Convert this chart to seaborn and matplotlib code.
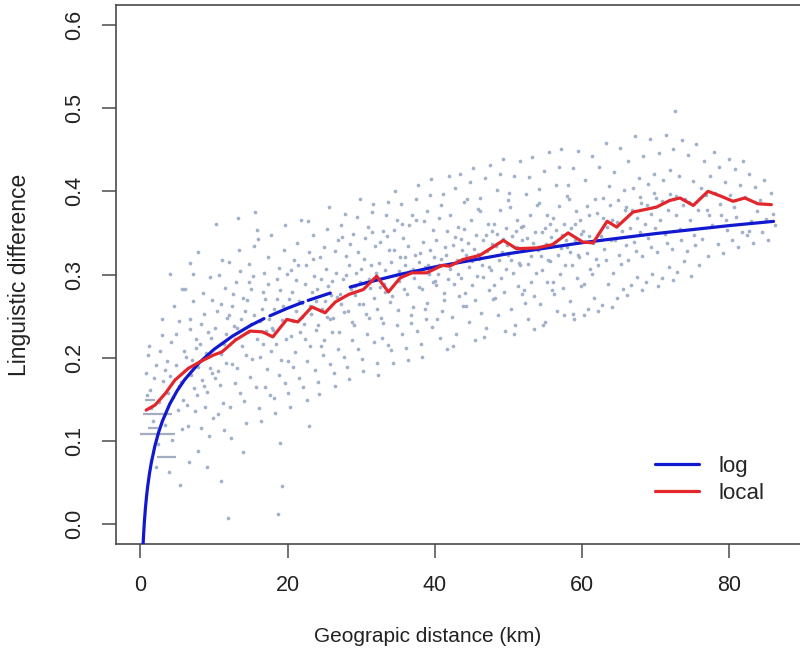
import numpy as np
import pandas as pd
import matplotlib
matplotlib.use("Agg")
import matplotlib.pyplot as plt
from matplotlib.lines import Line2D
import seaborn as sns

# ---------------- data ----------------
# scatter cloud (distance km, linguistic difference)
cloud_0_10 = [(0.8,0.182),(1.1,0.203),(1.3,0.161),(1.7,0.124),(1.9,0.176),(1.2,0.214),(1.5,0.139),(0.9,0.155),
    (2.2,0.191),(2.5,0.147),(2.7,0.208),(3.1,0.172),(3.3,0.119),(3.6,0.196),(2.4,0.096),(2.9,0.227),(3.8,0.158),
    (2.1,0.068),(3.4,0.185),(3.9,0.062),(4.2,0.219),(4.4,0.153),(4.8,0.191),(5.1,0.137),(5.3,0.244),(5.5,0.171),
    (5.9,0.208),(4.3,0.101),(4.9,0.229),(5.2,0.166),(5.7,0.114),(4.6,0.262),(5.4,0.047),(4.1,0.178),(5.8,0.149),
    (6.2,0.201),(6.3,0.143),(6.7,0.234),(6.9,0.179),(7.1,0.268),(7.4,0.136),(7.6,0.212),(7.9,0.189),(6.5,0.118),
    (6.8,0.247),(7.3,0.164),(7.5,0.223),(7.8,0.088),(6.1,0.283),(7.0,0.197),(7.7,0.155),(6.6,0.074),(8.1,0.216),
    (8.4,0.173),(8.6,0.252),(8.8,0.141),(9.2,0.231),(9.4,0.187),(9.7,0.269),(8.3,0.115),(8.9,0.206),(9.1,0.159),
    (9.5,0.297),(9.8,0.181),(8.2,0.241),(9.0,0.069),(9.6,0.224),(8.7,0.166),(9.9,0.128),(8.5,0.278),(9.3,0.106),
    (7.2,0.301),(5.6,0.283),(3.0,0.247),(4.0,0.301),(6.8,0.314),(7.9,0.327)]
cloud_10_20 = [(10.1,0.236),(10.3,0.361),(10.6,0.184),(10.9,0.265),(11.2,0.146),(11.4,0.217),(11.8,0.248),
    (10.2,0.175),(10.7,0.299),(11.0,0.204),(11.3,0.113),(11.6,0.229),(11.9,0.007),(10.4,0.256),(10.8,0.167),
    (11.5,0.284),(11.7,0.194),(10.5,0.132),(11.1,0.318),(10.9,0.052),(12.1,0.251),(12.4,0.193),(12.6,0.277),
    (12.9,0.169),(13.2,0.236),(13.3,0.368),(13.6,0.304),(13.8,0.214),(12.2,0.141),(12.5,0.262),(12.8,0.223),
    (13.1,0.187),(13.4,0.329),(13.7,0.246),(12.3,0.104),(13.0,0.291),(13.5,0.158),(12.7,0.238),(13.9,0.272),
    (12.0,0.315),(14.2,0.256),(14.3,0.203),(14.7,0.291),(14.9,0.177),(15.1,0.241),(15.4,0.334),(15.6,0.375),
    (15.8,0.222),(14.1,0.148),(14.5,0.269),(14.8,0.313),(15.2,0.198),(15.5,0.251),(15.9,0.354),(14.4,0.121),
    (15.0,0.282),(15.7,0.165),(14.6,0.231),(15.3,0.298),(14.0,0.087),(16.2,0.244),(16.3,0.201),(16.7,0.279),
    (16.9,0.165),(17.1,0.232),(17.4,0.321),(17.8,0.208),(16.1,0.139),(16.5,0.259),(16.8,0.302),(17.2,0.186),
    (17.5,0.247),(17.7,0.347),(16.4,0.124),(17.0,0.271),(17.6,0.155),(16.6,0.217),(17.3,0.289),(17.9,0.236),
    (16.0,0.343),(18.1,0.258),(18.4,0.216),(18.6,0.294),(18.7,0.012),(18.9,0.179),(19.2,0.245),(19.3,0.046),
    (19.5,0.329),(19.8,0.222),(18.2,0.151),(18.5,0.271),(18.8,0.308),(19.1,0.197),(19.4,0.262),(19.7,0.359),
    (18.3,0.134),(19.0,0.281),(19.6,0.169),(18.0,0.233),(19.9,0.301),(19.0,0.097)]
cloud_20_40 = [(20.2,0.271),(20.4,0.226),(20.5,0.305),(20.8,0.189),(21.1,0.256),(21.3,0.338),(21.7,0.231),
    (20.1,0.158),(20.6,0.279),(20.9,0.318),(21.0,0.207),(21.5,0.268),(21.8,0.366),(20.3,0.141),(21.2,0.293),
    (21.6,0.176),(20.7,0.244),(21.4,0.311),(21.9,0.249),(20.0,0.196),(22.0,0.266),(22.3,0.222),(22.5,0.312),
    (22.8,0.364),(22.7,0.196),(23.1,0.262),(23.4,0.347),(23.8,0.233),(22.1,0.165),(22.4,0.288),(22.9,0.327),
    (23.0,0.214),(23.3,0.279),(23.6,0.298),(22.6,0.149),(23.2,0.253),(23.7,0.185),(22.2,0.241),(23.5,0.319),
    (23.9,0.268),(22.9,0.118),(24.0,0.283),(24.2,0.239),(24.4,0.321),(24.8,0.203),(25.1,0.268),(25.3,0.355),
    (25.7,0.247),(24.1,0.171),(24.6,0.295),(24.9,0.333),(25.0,0.221),(25.5,0.286),(25.6,0.381),(24.3,0.156),
    (25.2,0.307),(25.8,0.192),(24.7,0.258),(25.4,0.249),(25.9,0.275),(24.5,0.214),(26.0,0.292),(26.2,0.248),
    (26.5,0.328),(26.8,0.211),(27.1,0.277),(27.3,0.359),(27.8,0.373),(27.6,0.255),(26.3,0.181),(26.6,0.302),
    (26.9,0.341),(27.0,0.231),(27.5,0.294),(27.9,0.322),(26.4,0.166),(27.2,0.265),(27.7,0.201),(26.7,0.273),
    (27.4,0.345),(26.1,0.231),(28.0,0.299),(28.2,0.256),(28.5,0.337),(28.8,0.221),(29.1,0.286),(29.4,0.369),
    (29.7,0.264),(28.1,0.189),(28.4,0.311),(28.9,0.349),(29.0,0.239),(29.3,0.302),(29.8,0.391),(28.3,0.174),
    (29.2,0.275),(29.5,0.211),(28.6,0.282),(29.6,0.327),(29.9,0.291),(28.7,0.243),(30.0,0.307),(30.2,0.265),
    (30.5,0.344),(30.8,0.229),(31.1,0.294),(31.4,0.375),(31.6,0.385),(31.8,0.272),(30.1,0.198),(30.4,0.319),
    (30.9,0.357),(31.0,0.248),(31.3,0.311),(31.9,0.334),(30.3,0.184),(31.2,0.284),(31.7,0.219),(30.6,0.291),
    (31.5,0.351),(30.7,0.253),(32.0,0.302),(32.2,0.259),(32.5,0.339),(32.8,0.224),(33.1,0.289),(33.4,0.371),
    (33.7,0.387),(33.9,0.267),(32.1,0.194),(32.4,0.314),(32.9,0.352),(33.0,0.242),(33.3,0.305),(33.8,0.329),
    (32.3,0.179),(33.2,0.279),(33.6,0.215),(32.6,0.285),(33.5,0.346),(32.7,0.248),(34.0,0.315),(34.2,0.274),
    (34.5,0.354),(34.6,0.400),(34.8,0.239),(35.1,0.304),(35.4,0.385),(35.8,0.282),(34.1,0.209),(34.4,0.329),
    (34.9,0.366),(35.0,0.257),(35.3,0.321),(35.7,0.344),(34.3,0.194),(35.2,0.292),(35.6,0.229),(34.7,0.299),
    (35.5,0.361),(35.9,0.312),(36.0,0.321),(36.2,0.277),(36.5,0.359),(36.8,0.242),(37.1,0.307),(37.4,0.391),
    (37.8,0.285),(36.1,0.212),(36.4,0.334),(36.9,0.371),(37.0,0.261),(37.3,0.324),(37.7,0.408),(36.3,0.197),
    (37.2,0.296),(37.6,0.232),(36.6,0.304),(37.5,0.365),(37.9,0.315),(36.7,0.251),(38.0,0.326),(38.2,0.282),
    (38.5,0.364),(38.8,0.247),(39.1,0.312),(39.4,0.395),(39.8,0.291),(38.1,0.216),(38.4,0.339),(38.9,0.376),
    (39.0,0.266),(39.3,0.329),(39.7,0.354),(38.3,0.201),(39.2,0.301),(39.6,0.237),(38.6,0.309),(39.5,0.415),
    (39.9,0.321),(38.7,0.258)]
cloud_40_60 = [(40.1,0.342),(40.2,0.287),(40.4,0.301),(40.5,0.368),(40.7,0.224),(40.9,0.319),(41.0,0.256),
    (41.1,0.397),(41.3,0.278),(41.4,0.333),(41.6,0.211),(41.7,0.352),(41.8,0.295),(41.9,0.418),(40.3,0.246),
    (40.6,0.311),(40.8,0.383),(41.2,0.269),(41.5,0.324),(40.0,0.292),(42.0,0.307),(42.1,0.371),(42.3,0.249),
    (42.4,0.336),(42.6,0.289),(42.7,0.404),(42.9,0.229),(43.0,0.318),(43.1,0.357),(43.3,0.274),(43.4,0.421),
    (43.5,0.296),(43.6,0.343),(43.8,0.262),(43.9,0.387),(42.2,0.313),(42.5,0.214),(42.8,0.345),(43.2,0.301),
    (43.7,0.329),(44.0,0.355),(44.1,0.278),(44.3,0.324),(44.4,0.391),(44.6,0.243),(44.7,0.309),(44.9,0.366),
    (45.0,0.287),(45.2,0.428),(45.3,0.331),(45.5,0.221),(45.6,0.347),(45.7,0.298),(45.9,0.379),(44.2,0.262),
    (44.5,0.338),(44.8,0.411),(45.1,0.316),(45.4,0.269),(45.8,0.325),(46.0,0.319),(46.2,0.376),(46.3,0.254),
    (46.5,0.341),(46.6,0.297),(46.8,0.416),(46.9,0.236),(47.1,0.328),(47.2,0.361),(47.3,0.281),(47.5,0.432),
    (47.6,0.305),(47.7,0.352),(47.9,0.271),(46.1,0.392),(46.4,0.312),(46.7,0.225),(47.0,0.348),(47.4,0.309),
    (47.8,0.337),(48.0,0.361),(48.1,0.287),(48.3,0.334),(48.4,0.402),(48.6,0.251),(48.7,0.318),(48.9,0.377),
    (49.0,0.296),(49.2,0.439),(49.3,0.343),(49.5,0.232),(49.6,0.356),(49.7,0.307),(49.9,0.389),(48.2,0.272),
    (48.5,0.349),(48.8,0.421),(49.1,0.327),(49.4,0.279),(49.8,0.336),(50.0,0.324),(50.2,0.381),(50.3,0.259),
    (50.5,0.346),(50.6,0.302),(50.8,0.419),(50.9,0.239),(51.1,0.333),(51.2,0.366),(51.3,0.286),(51.5,0.436),
    (51.6,0.311),(51.7,0.357),(51.9,0.276),(50.1,0.398),(50.4,0.317),(50.7,0.228),(51.0,0.352),(51.4,0.314),
    (51.8,0.341),(52.0,0.358),(52.1,0.281),(52.3,0.329),(52.4,0.397),(52.6,0.247),(52.7,0.313),(52.9,0.372),
    (53.0,0.291),(53.2,0.441),(53.3,0.338),(53.5,0.234),(53.6,0.351),(53.7,0.302),(53.9,0.384),(52.2,0.266),
    (52.5,0.344),(52.8,0.417),(53.1,0.322),(53.4,0.274),(53.8,0.331),(54.0,0.329),(54.2,0.386),(54.3,0.264),
    (54.5,0.351),(54.6,0.306),(54.8,0.424),(54.9,0.243),(55.1,0.337),(55.2,0.371),(55.3,0.291),(55.5,0.447),
    (55.6,0.316),(55.7,0.361),(55.9,0.281),(54.1,0.403),(54.4,0.322),(54.7,0.239),(55.0,0.356),(55.4,0.318),
    (55.8,0.345),(56.0,0.368),(56.1,0.291),(56.3,0.339),(56.4,0.408),(56.6,0.256),(56.7,0.323),(56.9,0.382),
    (57.0,0.301),(57.2,0.451),(57.3,0.348),(57.5,0.251),(57.6,0.361),(57.7,0.312),(57.9,0.394),(56.2,0.276),
    (56.5,0.354),(56.8,0.429),(57.1,0.332),(57.4,0.284),(57.8,0.341),(58.0,0.333),(58.2,0.391),(58.3,0.268),
    (58.5,0.356),(58.6,0.311),(58.8,0.428),(58.9,0.247),(59.1,0.342),(59.2,0.376),(59.3,0.296),(59.5,0.448),
    (59.6,0.321),(59.7,0.366),(59.9,0.286),(58.1,0.407),(58.4,0.327),(58.7,0.252),(59.0,0.361),(59.4,0.323),
    (59.8,0.349)]
cloud_60_86 = [(60.1,0.352),(60.3,0.289),(60.4,0.414),(60.6,0.326),(60.8,0.258),(61.0,0.371),(61.1,0.307),
    (61.3,0.443),(61.5,0.338),(61.6,0.272),(61.8,0.391),(61.9,0.319),(60.2,0.251),(60.9,0.346),(61.4,0.301),
    (60.7,0.382),(62.0,0.374),(62.2,0.311),(62.3,0.429),(62.5,0.346),(62.7,0.263),(62.9,0.392),(63.0,0.331),
    (63.2,0.458),(63.4,0.357),(63.5,0.289),(63.7,0.406),(63.9,0.342),(62.1,0.256),(62.8,0.368),(63.3,0.318),
    (63.8,0.383),(64.0,0.366),(64.2,0.302),(64.3,0.423),(64.5,0.341),(64.7,0.272),(64.9,0.389),(65.0,0.324),
    (65.2,0.452),(65.4,0.352),(65.5,0.283),(65.7,0.401),(65.9,0.336),(64.1,0.261),(64.8,0.363),(65.3,0.313),
    (65.8,0.378),(66.0,0.381),(66.2,0.318),(66.3,0.437),(66.5,0.356),(66.7,0.287),(66.9,0.404),(67.0,0.339),
    (67.2,0.466),(67.4,0.368),(67.5,0.297),(67.7,0.416),(67.9,0.351),(66.1,0.275),(66.8,0.378),(67.3,0.328),
    (67.8,0.393),(68.0,0.386),(68.2,0.322),(68.3,0.442),(68.5,0.361),(68.7,0.291),(68.9,0.409),(69.0,0.344),
    (69.2,0.463),(69.4,0.373),(69.5,0.301),(69.7,0.421),(69.9,0.356),(68.1,0.281),(68.8,0.383),(69.3,0.333),
    (69.8,0.398),(70.0,0.392),(70.2,0.327),(70.4,0.446),(70.6,0.366),(70.8,0.296),(71.0,0.414),(71.2,0.349),
    (71.4,0.468),(71.6,0.378),(71.8,0.309),(70.3,0.286),(70.9,0.388),(71.5,0.338),(71.9,0.426),(72.0,0.397),
    (72.2,0.331),(72.4,0.451),(72.6,0.497),(72.7,0.371),(72.9,0.303),(73.1,0.419),(73.3,0.355),(73.5,0.462),
    (73.7,0.383),(73.9,0.316),(72.3,0.293),(72.8,0.394),(73.4,0.342),(74.0,0.391),(74.2,0.328),(74.4,0.444),
    (74.6,0.366),(74.8,0.298),(75.0,0.413),(75.2,0.348),(75.5,0.457),(75.7,0.377),(75.9,0.311),(74.5,0.387),
    (75.3,0.336),(76.1,0.404),(76.3,0.343),(76.6,0.436),(76.9,0.378),(77.1,0.322),(77.4,0.418),(77.6,0.359),
    (77.9,0.447),(76.8,0.396),(77.3,0.371),(78.1,0.398),(78.4,0.337),(78.6,0.429),(78.9,0.372),(79.2,0.326),
    (79.4,0.411),(79.7,0.353),(79.9,0.439),(78.7,0.385),(79.5,0.366),(80.1,0.396),(80.4,0.341),(80.7,0.427),
    (80.9,0.369),(81.2,0.333),(81.5,0.408),(81.7,0.351),(81.9,0.436),(80.6,0.381),(82.1,0.393),(82.4,0.347),
    (82.7,0.421),(82.9,0.364),(83.2,0.338),(83.5,0.405),(83.8,0.376),(82.6,0.352),(84.1,0.389),(84.4,0.351),
    (84.7,0.414),(85.0,0.367),(85.3,0.342),(85.6,0.398),(85.9,0.373),(86.2,0.359)]

# tied values at very short distances (appear as short grey dashes)
tie_y = [0.149, 0.132, 0.115, 0.108, 0.080]
tie_x0 = [0.7, 0.4, 1.1, 0.0, 2.3]
tie_x1 = [2.0, 4.3, 2.4, 4.7, 4.9]

# logarithmic fit, read at a set of distances (segments split where the curve has gaps)
log_x = [0.38, 0.45, 0.55, 0.7, 0.85, 1.0, 1.25, 1.5, 2.0, 2.5, 3.0, 4.0, 5.0, 6.0, 8.0, 10.0, 12.5, 15.0, 16.8,
         17.6, 20.0, 22.1,
         22.8, 25.8,
         28.5, 30.3, 35.0, 40.0, 50.0, 60.0, 70.0, 80.0, 86.0]
log_y = [-0.0243, -0.0122, 0.0022, 0.0195, 0.0334, 0.0450, 0.0610, 0.0740, 0.0946, 0.1106, 0.1237, 0.1443,
         0.1602, 0.1733, 0.1939, 0.2099, 0.2258, 0.2389, 0.2470,
         0.2503, 0.2595, 0.2666,
         0.2689, 0.2777,
         0.2849, 0.2892, 0.2996, 0.3091, 0.3251, 0.3382, 0.3492, 0.3588, 0.3639]
log_seg = [0] * 19 + [1] * 3 + [2] * 2 + [3] * 9

# local average line
local_x = [0.8, 2.0, 3.4, 4.7, 6.5, 8.1, 9.9, 11.1, 12.9, 14.9, 16.6, 18.0, 19.9, 21.4, 23.3, 25.1, 26.5, 28.3,
           30.3, 32.1, 33.7, 35.3, 36.9, 38.9, 41.0, 42.0, 43.8, 46.1, 49.3, 51.1, 53.9, 56.0, 58.1, 60.1, 61.5,
           63.4, 64.7, 66.9, 70.1, 71.9, 73.3, 75.1, 77.1, 78.9, 80.5, 82.1, 83.9, 85.7]
local_y = [0.137, 0.143, 0.157, 0.173, 0.187, 0.195, 0.203, 0.207, 0.221, 0.232, 0.231, 0.225, 0.246, 0.243,
           0.261, 0.254, 0.267, 0.276, 0.282, 0.298, 0.279, 0.296, 0.302, 0.302, 0.311, 0.310, 0.318, 0.323,
           0.341, 0.331, 0.332, 0.336, 0.350, 0.339, 0.338, 0.364, 0.357, 0.375, 0.381, 0.389, 0.392, 0.383,
           0.400, 0.394, 0.388, 0.392, 0.385, 0.384]

x_ticks = [0, 20, 40, 60, 80]
y_ticks = [0.0, 0.1, 0.2, 0.3, 0.4, 0.5, 0.6]
y_tick_labels = ["0.0", "0.1", "0.2", "0.3", "0.4", "0.5", "0.6"]
series_labels = ["log", "local"]

# ---------------- drawing ----------------
sns.set_style("white")
plt.rcParams['font.family'] = ['Liberation Sans', 'DejaVu Sans']

BLUE = '#1018d0'
RED = '#e2262c'
DOT = '#9cadc8'
AXC = '#4a4a4a'
TXT = '#222222'

fig = plt.figure(figsize=(8, 6.6), dpi=100)
ax = fig.add_axes([116 / 800, (660 - 544) / 660, 687 / 800, 539 / 660])

cloud = pd.DataFrame(cloud_0_10 + cloud_10_20 + cloud_20_40 + cloud_40_60 + cloud_60_86,
                     columns=['dist', 'ling'])
sns.scatterplot(data=cloud, x='dist', y='ling', s=7, color=DOT, linewidth=0, alpha=0.95,
                ax=ax, legend=False, zorder=1)
ax.hlines(tie_y, tie_x0, tie_x1, color='#a4adbf', lw=1.6, zorder=1)

log_df = pd.DataFrame({'dist': log_x, 'ling': log_y, 'seg': log_seg})
sns.lineplot(data=log_df, x='dist', y='ling', units='seg', estimator=None, sort=False,
             color=BLUE, lw=2.3, ax=ax, zorder=3)
local_df = pd.DataFrame({'dist': local_x, 'ling': local_y})
sns.lineplot(data=local_df, x='dist', y='ling', estimator=None, sort=False,
             color=RED, lw=2.3, ax=ax, zorder=4)

ax.set_xlim(-3.3, 90.0)
ax.set_ylim(-0.024, 0.624)
ax.set_xticks(x_ticks)
ax.set_xticklabels([str(t) for t in x_ticks])
ax.set_yticks(y_ticks)
ax.set_yticklabels(y_tick_labels, rotation=90, va='center')
ax.tick_params(axis='both', which='both', bottom=True, left=True, direction='out',
               length=10, width=1.1, color=AXC, labelsize=15.5, labelcolor=TXT)
ax.tick_params(axis='x', pad=12)
ax.tick_params(axis='y', pad=12)
for sp in ax.spines.values():
    sp.set_visible(True)
    sp.set_color(AXC)
    sp.set_linewidth(1.2)

ax.set_xlabel("Geograpic distance (km)", fontsize=15, color=TXT)
ax.set_ylabel("Linguistic difference", fontsize=16.5, color=TXT)
ax.xaxis.set_label_coords((428 - 116) / 687, -(637 - 544) / 539)
ax.xaxis.label.set_va('center')
ax.yaxis.set_label_coords(-(116 - 20) / 687, 0.5)
ax.yaxis.label.set_va('center')

handles = [Line2D([0], [0], color=BLUE, lw=2.3), Line2D([0], [0], color=RED, lw=2.3)]
ax.legend(handles, series_labels, loc='center left', bbox_to_anchor=((655 - 116) / 687, (544 - 480) / 539),
          frameon=False, fontsize=16, handlelength=2.0, handletextpad=0.85, labelspacing=0.28,
          borderpad=0, borderaxespad=0)

fig.savefig("out.png", dpi=100, facecolor='white')
